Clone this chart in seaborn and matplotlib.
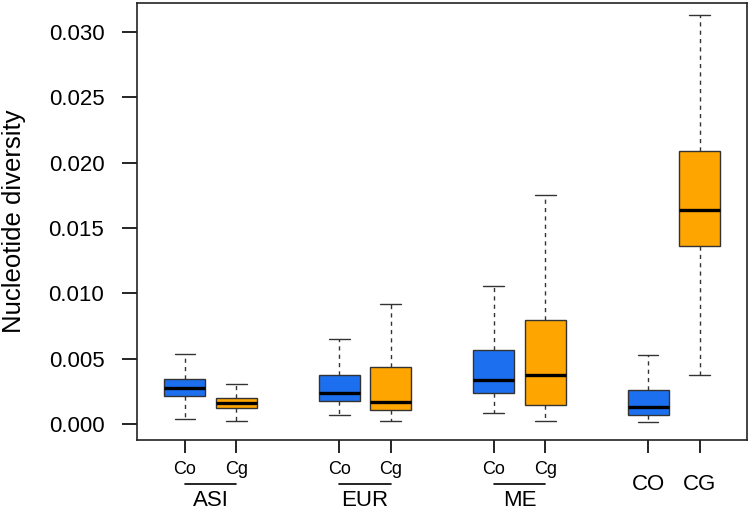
import matplotlib
matplotlib.use("Agg")
import matplotlib.pyplot as plt
import seaborn as sns
import numpy as np
import pandas as pd

# five-number summaries: min, q1, median, q3, max
groups = ["ASI Co", "ASI Cg", "EUR Co", "EUR Cg", "ME Co", "ME Cg", "CO", "CG"]
positions = [1, 2, 4, 5, 7, 8, 10, 11]
species = ["Co", "Cg", "Co", "Cg", "Co", "Cg", "Co", "Cg"]
summaries = [
    [0.00044, 0.0022, 0.0028, 0.0035, 0.0054],
    [0.00023, 0.00125, 0.0016, 0.0020, 0.0031],
    [0.00071, 0.0018, 0.00243, 0.00375, 0.0065],
    [0.00023, 0.0011, 0.00174, 0.0044, 0.0092],
    [0.00084, 0.00243, 0.0034, 0.0057, 0.0106],
    [0.00023, 0.0015, 0.0038, 0.0080, 0.0175],
    [0.00015, 0.00071, 0.00135, 0.0026, 0.0053],
    [0.0038, 0.0136, 0.0164, 0.0209, 0.0313],
]
tick_labels = ["Co", "Cg", "Co", "Cg", "Co", "Cg", "CO", "CG"]
region_labels = ["ASI", "EUR", "ME"]
yticks = [0.000, 0.005, 0.010, 0.015, 0.020, 0.025, 0.030]

rows = []
for pos, sp, vals in zip(positions, species, summaries):
    for v in vals:
        rows.append({"pos": pos, "species": sp, "value": v})
df = pd.DataFrame(rows)

sns.set_style("white")
plt.rcParams["font.family"] = ["Liberation Sans", "DejaVu Sans"]
plt.rcParams["text.color"] = "black"
plt.rcParams["axes.labelcolor"] = "black"
plt.rcParams["xtick.color"] = "black"
plt.rcParams["ytick.color"] = "black"

fig = plt.figure(figsize=(7.5, 5.13), dpi=100)
ax = fig.add_axes([137 / 750, 1 - 440 / 513, 610 / 750, 437 / 513])

sns.boxplot(data=df, x="pos", y="value", hue="species", native_scale=True,
            palette={"Co": "#1C70F0", "Cg": "#FFA500"}, saturation=1,
            dodge=False, width=0.8, whis=(0, 100), showfliers=False,
            legend=False, ax=ax, linecolor="#333333", linewidth=1.0,
            medianprops={"color": "black", "linewidth": 2.4},
            whiskerprops={"linestyle": (0, (3, 3)), "color": "#333333"},
            capprops={"color": "#333333"})

# shorter caps, like R's staplewex
for line in ax.lines:
    xd = np.asarray(line.get_xdata(), dtype=float)
    yd = np.asarray(line.get_ydata(), dtype=float)
    if len(xd) == 2 and yd[0] == yd[1] and abs(xd[1] - xd[0]) > 0.3:
        c = xd.mean()
        if line.get_linewidth() < 2:
            line.set_xdata([c - 0.2, c + 0.2])

ax.set_xlim(0.07, 11.92)
ax.set_ylim(-0.0012, 0.0322)
ax.set_yticks(yticks)
ax.set_yticklabels([f"{t:.3f}" for t in yticks], fontsize=16)
ax.set_ylabel("Nucleotide diversity", fontsize=18.5)
ax.yaxis.set_label_coords(-(137 - 26) / 610, 0.5)
ax.set_xlabel("")
ax.set_xticks(positions)
ax.set_xticklabels([])
ax.tick_params(axis="y", direction="out", length=11, width=1.2, pad=12.5,
               left=True)
ax.tick_params(axis="x", direction="out", length=9, width=1.2, bottom=True)
for s in ax.spines.values():
    s.set_visible(True)
    s.set_color("#222222")
    s.set_linewidth(1.2)

trans = ax.get_xaxis_transform()
for pos, lab in zip(positions[:6], tick_labels[:6]):
    ax.text(pos, -30 / 437, lab, transform=trans, ha="center", va="center",
            fontsize=13, clip_on=False)
for pos, lab in zip(positions[6:], tick_labels[6:]):
    ax.text(pos, -44 / 437, lab, transform=trans, ha="center", va="center",
            fontsize=16, clip_on=False)
for i, lab in enumerate(region_labels):
    a, b = positions[2 * i], positions[2 * i + 1]
    ax.plot([a, b], [-44 / 437, -44 / 437], transform=trans, color="black",
            linewidth=1.2, clip_on=False)
    ax.text((a + b) / 2, -60 / 437, lab, transform=trans, ha="center",
            va="center", fontsize=16, clip_on=False)

fig.savefig("out.png", dpi=100)
